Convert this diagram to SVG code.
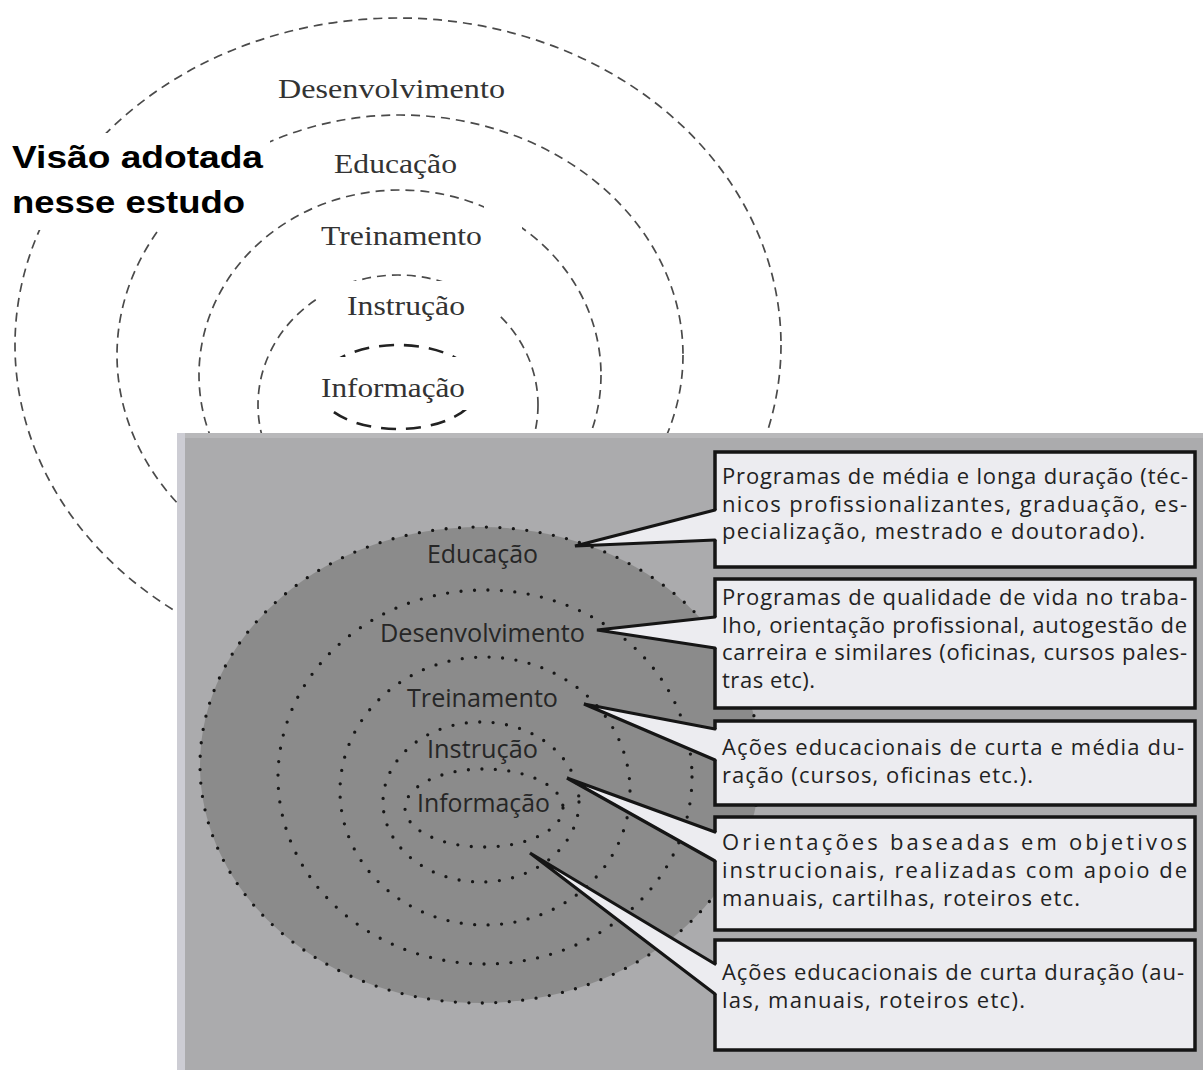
<svg xmlns="http://www.w3.org/2000/svg" width="1203" height="1070" viewBox="0 0 1203 1070">
<style>
.dash{fill:none;stroke:#4a4a4a;stroke-width:1.7;stroke-dasharray:9 6}
.dash5{fill:none;stroke:#222;stroke-width:2.6;stroke-dasharray:15 10}
.serif{font-family:"Liberation Serif","Times New Roman",serif;font-size:28px;fill:#333}
.bold{font-family:"Liberation Sans",Arial,sans-serif;font-weight:bold;font-size:32px;fill:#000}
.dots{fill:none;stroke:#161616;stroke-width:3.3;stroke-linecap:round;stroke-dasharray:0 13.5}
.lbl{font-family:"Open Sans","DejaVu Sans",sans-serif;font-size:25px;fill:#262626}
.box{fill:#ececf0;stroke:#151515;stroke-width:3.5}
.bt{font-family:"Open Sans","DejaVu Sans",sans-serif;font-size:22px;fill:#222}
.wfill{fill:#ececf0;stroke:none}
.wline{stroke:#151515;stroke-width:3.2;stroke-linecap:round;fill:none}
.mask{fill:#fff}
</style>
<rect x="0" y="0" width="1203" height="1070" fill="#fff"/>

<g id="top-diagram">
  <ellipse class="dash" cx="398" cy="345" rx="383" ry="327"/>
  <ellipse class="dash" cx="400" cy="355" rx="283" ry="240"/>
  <ellipse class="dash" cx="400" cy="375" rx="201" ry="185"/>
  <ellipse class="dash" cx="398" cy="405" rx="140" ry="130"/>
  <ellipse class="dash5" cx="398" cy="387" rx="80" ry="42"/>
  <rect class="mask" x="0" y="133" width="270" height="97"/>
  <rect class="mask" x="484" y="200" width="38" height="30"/>
  <rect class="mask" x="318" y="281" width="180" height="41"/>
  <rect class="mask" x="310" y="357" width="180" height="53"/>
</g>

<g id="label-visao">
  <text class="bold" x="12" y="168" textLength="251" lengthAdjust="spacingAndGlyphs">Visão adotada</text>
  <text class="bold" x="12" y="213" textLength="233" lengthAdjust="spacingAndGlyphs">nesse estudo</text>
</g>

<g id="top-labels">
  <text class="serif" x="278" y="98" textLength="227" lengthAdjust="spacingAndGlyphs">Desenvolvimento</text>
  <text class="serif" x="334" y="173" textLength="123" lengthAdjust="spacingAndGlyphs">Educação</text>
  <text class="serif" x="321" y="245" textLength="161" lengthAdjust="spacingAndGlyphs">Treinamento</text>
  <text class="serif" x="347" y="315" textLength="118" lengthAdjust="spacingAndGlyphs">Instrução</text>
  <text class="serif" x="321" y="397" textLength="144" lengthAdjust="spacingAndGlyphs">Informação</text>
</g>

<g id="panel">
  <rect x="177" y="433" width="1026" height="637" fill="#ababad"/>
  <rect x="177" y="433" width="8" height="637" fill="#cdcdd4"/>
  <rect x="185" y="433" width="1018" height="5" fill="#b8b8ba"/>
</g>

<g id="rings">
  <ellipse cx="480" cy="765" rx="280" ry="238" fill="#8b8b8b"/>
  <ellipse class="dots" cx="480" cy="765" rx="280" ry="238"/>
  <ellipse class="dots" cx="485" cy="777" rx="207" ry="187"/>
  <ellipse class="dots" cx="485" cy="791" rx="145" ry="134"/>
  <ellipse class="dots" cx="481" cy="802" rx="98" ry="80"/>
  <ellipse class="dots" cx="484" cy="808" rx="79" ry="39"/>
</g>

<g id="ring-labels">
  <text class="lbl" x="427" y="563" textLength="111" lengthAdjust="spacingAndGlyphs">Educação</text>
  <text class="lbl" x="380" y="642" textLength="205" lengthAdjust="spacingAndGlyphs">Desenvolvimento</text>
  <text class="lbl" x="407" y="707" textLength="151" lengthAdjust="spacingAndGlyphs">Treinamento</text>
  <text class="lbl" x="427" y="758" textLength="111" lengthAdjust="spacingAndGlyphs">Instrução</text>
  <text class="lbl" x="417" y="812" textLength="133" lengthAdjust="spacingAndGlyphs">Informação</text>
</g>

<g id="box1">
  <rect class="box" x="715" y="452" width="480" height="115"/>
  <text class="bt" x="722" y="484" textLength="466" lengthAdjust="spacing">Programas de média e longa duração (téc-</text>
  <text class="bt" x="722" y="512" textLength="465" lengthAdjust="spacing">nicos profissionalizantes, graduação, es-</text>
  <text class="bt" x="722" y="539" textLength="423" lengthAdjust="spacing">pecialização, mestrado e doutorado).</text>
</g>
<g id="box2">
  <rect class="box" x="715" y="579" width="480" height="129"/>
  <text class="bt" x="722" y="605" textLength="465" lengthAdjust="spacing">Programas de qualidade de vida no traba-</text>
  <text class="bt" x="722" y="633" textLength="465" lengthAdjust="spacing">lho, orientação profissional, autogestão de</text>
  <text class="bt" x="722" y="660" textLength="465" lengthAdjust="spacing">carreira e similares (oficinas, cursos pales-</text>
  <text class="bt" x="722" y="688" textLength="93" lengthAdjust="spacing">tras etc).</text>
</g>
<g id="box3">
  <rect class="box" x="715" y="721" width="480" height="84"/>
  <text class="bt" x="722" y="755" textLength="462" lengthAdjust="spacing">Ações educacionais de curta e média du-</text>
  <text class="bt" x="722" y="783" textLength="311" lengthAdjust="spacing">ração (cursos, oficinas etc.).</text>
</g>
<g id="box4">
  <rect class="box" x="715" y="817" width="480" height="113"/>
  <text class="bt" x="722" y="850" textLength="465" lengthAdjust="spacing">Orientações baseadas em objetivos</text>
  <text class="bt" x="722" y="878" textLength="465" lengthAdjust="spacing">instrucionais, realizadas com apoio de</text>
  <text class="bt" x="722" y="906" textLength="358" lengthAdjust="spacing">manuais, cartilhas, roteiros etc.</text>
</g>
<g id="box5">
  <rect class="box" x="715" y="940" width="480" height="110"/>
  <text class="bt" x="722" y="980" textLength="462" lengthAdjust="spacing">Ações educacionais de curta duração (au-</text>
  <text class="bt" x="722" y="1008" textLength="303" lengthAdjust="spacing">las, manuais, roteiros etc).</text>
</g>

<g id="connectors">
  <polygon class="wfill" points="575,546 713,510 719,510 719,540 713,540"/>
  <polyline class="wline" points="715,510 575,546 715,540"/>
  <polygon class="wfill" points="597,630 713,617 719,617 719,648 713,648"/>
  <polyline class="wline" points="715,617 597,630 715,648"/>
  <polygon class="wfill" points="584,704 713,729 719,729 719,760 713,760"/>
  <polyline class="wline" points="715,729 584,704 715,760"/>
  <polygon class="wfill" points="567,778 713,832 719,832 719,861 713,861"/>
  <polyline class="wline" points="715,832 567,778 715,861"/>
  <polygon class="wfill" points="530,853 713,964 719,964 719,994 713,994"/>
  <polyline class="wline" points="715,964 530,853 715,994"/>
</g>
</svg>
